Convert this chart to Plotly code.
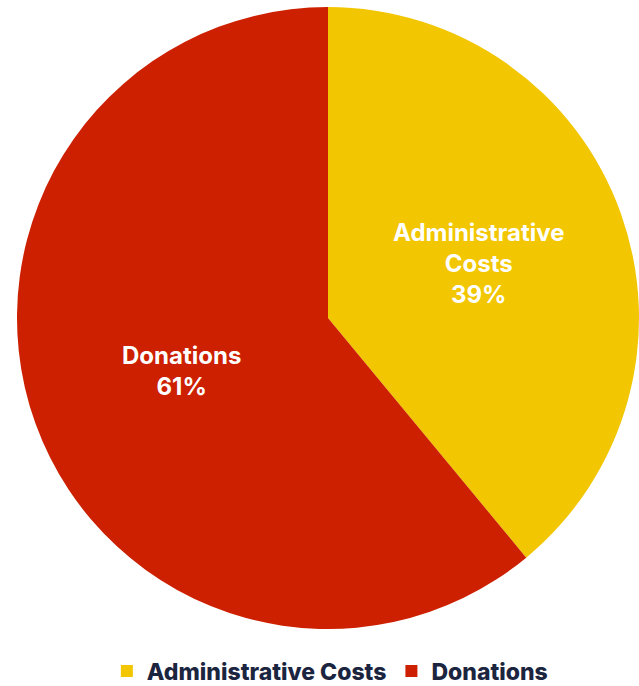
import plotly.graph_objects as go

labels = ["Administrative Costs", "Donations"]
values = [39, 61]
display_labels = ["Administrative<br>Costs", "Donations"]
colors = ["#F2C600", "#CC2000"]

fig = go.Figure(go.Pie(
    labels=labels,
    values=values,
    text=display_labels,
    texttemplate="%{text}<br>%{percent:.0%}",
    textposition="inside",
    insidetextorientation="horizontal",
    sort=False,
    direction="clockwise",
    rotation=0,
    marker=dict(colors=colors, line=dict(width=0)),
    textfont=dict(family="Inter", size=24, color="white", weight="bold"),
    hoverinfo="label+percent",
))

fig.update_layout(
    width=639, height=686,
    margin=dict(l=17, r=0, t=6, b=56),
    paper_bgcolor="white",
    plot_bgcolor="white",
    showlegend=True,
    legend=dict(
        orientation="h",
        x=0.503, xanchor="center",
        yref="container", y=1 - 671 / 686, yanchor="middle",
        font=dict(family="Inter", size=23, color="#1C2540", weight=800),
        itemsizing="constant",
    ),
)

fig.write_html(
    "out.html",
    config={"displayModeBar": False},
    post_script="document.body.style.margin='0';document.body.style.overflow='hidden';",
)
